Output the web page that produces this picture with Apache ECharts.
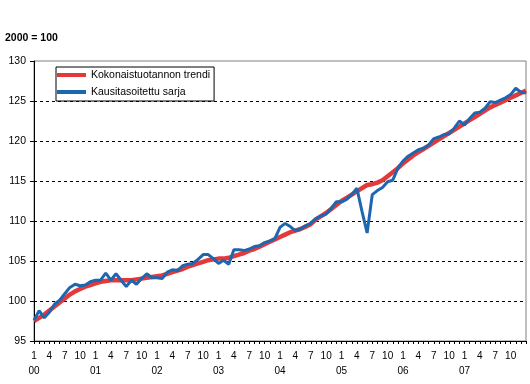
<!DOCTYPE html>
<html><head><meta charset="utf-8">
<script src="https://cdn.jsdelivr.net/npm/echarts@6/dist/echarts.min.js"></script>
<style>html,body{margin:0;padding:0;background:#fff}#c{width:530px;height:384px}</style>
</head><body><div id="c"></div><script>
const years = ['00','01','02','03','04','05','06','07','08'];
const monthNumbers = [1,2,3,4,5,6,7,8,9,10,11,12];
const yTicks = [95,100,105,110,115,120,125,130];
const seriesNames = ['Kokonaistuotannon trendi','Kausitasoitettu sarja'];

const trend = [
 97.5, 97.9, 98.3, 98.8, 99.3, 99.8,100.3,100.8,101.2,101.5,101.8,102.0,
102.2,102.4,102.5,102.6,102.6,102.6,102.6,102.6,102.7,102.8,102.9,103.0,
103.1,103.2,103.4,103.6,103.8,104.0,104.3,104.5,104.7,104.9,105.1,105.2,
105.3,105.3,105.4,105.6,105.8,106.0,106.3,106.5,106.8,107.1,107.4,107.7,
108.0,108.3,108.6,108.8,109.0,109.3,109.6,110.2,110.6,111.0,111.5,112.0,
112.5,112.9,113.3,113.7,114.1,114.5,114.6,114.8,115.1,115.6,116.1,116.6,
117.2,117.7,118.2,118.6,119.0,119.4,119.8,120.2,120.6,121.0,121.4,121.8,
122.2,122.6,123.0,123.4,123.8,124.2,124.5,124.8,125.1,125.4,125.7,126.0,
126.3];
const seasonal = [
 97.6, 98.8, 97.9, 98.6, 99.6,100.1,100.9,101.7,102.1,101.9,102.0,102.4,
102.6,102.6,103.5,102.6,103.4,102.6,101.8,102.6,102.1,102.8,103.4,102.9,
102.9,102.8,103.6,103.9,103.8,104.4,104.6,104.7,105.2,105.8,105.8,105.3,
104.7,105.1,104.6,106.4,106.4,106.3,106.5,106.8,106.9,107.3,107.5,107.8,
109.2,109.7,109.3,108.8,109.0,109.4,109.7,110.3,110.6,110.9,111.6,112.4,
112.4,112.7,113.3,114.1,111.2,108.5,113.3,113.8,114.2,114.9,115.1,116.6,
117.5,118.1,118.5,118.9,119.1,119.5,120.3,120.5,120.8,120.9,121.6,122.5,
122.0,122.8,123.5,123.6,124.1,124.9,124.8,125.1,125.4,125.8,126.6,126.1,
126.0];

const categories = [];
for (let y = 0; y < years.length && categories.length < trend.length; y++) {
  for (let m = 0; m < monthNumbers.length && categories.length < trend.length; m++) {
    categories.push(years[y] + '|' + monthNumbers[m]);
  }
}

const FONT = '"Liberation Sans", Arial, sans-serif';
const chart = echarts.init(document.getElementById('c'), null, {renderer: 'canvas'});
chart.setOption({
  animation: false,
  backgroundColor: '#fff',
  title: {
    text: '2000 = 100', left: 5, top: 33, padding: 0,
    textStyle: {fontFamily: FONT, fontSize: 10.5, fontWeight: 'bold', color: '#000'}
  },
  grid: {left: 34, right: 4, top: 61, bottom: 43, show: true, borderColor: '#808080', borderWidth: 1, backgroundColor: '#fff'},
  legend: {
    orient: 'vertical', left: 56, top: 67,
    backgroundColor: '#fff', borderColor: '#000', borderWidth: 1, borderRadius: 0,
    padding: [1, 4, 2, 1], itemGap: 3, itemWidth: 29, itemHeight: 4, icon: 'rect',
    textStyle: {fontFamily: FONT, fontSize: 10.5, color: '#000', lineHeight: 14},
    data: seriesNames
  },
  xAxis: {
    type: 'category', data: categories, boundaryGap: false,
    axisLine: {lineStyle: {color: '#000', width: 1}},
    axisTick: {show: true, interval: 0, length: 3, lineStyle: {color: '#000'}},
    axisLabel: {
      interval: function (i) { return i % 3 === 0 && i < categories.length - 1; },
      margin: 8, fontFamily: FONT, fontSize: 10, color: '#000', lineHeight: 15,
      formatter: function (v) {
        const p = v.split('|');
        return p[1] === '1' ? p[1] + '\n' + p[0] : p[1];
      }
    },
    splitLine: {show: false}
  },
  yAxis: {
    type: 'value', min: 95, max: 130, interval: 5,
    axisLine: {show: true, lineStyle: {color: '#000', width: 1}},
    axisTick: {show: true, length: 4, lineStyle: {color: '#000'}},
    axisLabel: {margin: 8, fontFamily: FONT, fontSize: 10.5, color: '#000'},
    splitLine: {show: true, lineStyle: {color: ['transparent','#000','#000','#000','#000','#000','#000','transparent'], type: [3, 3], width: 1}}
  },
  series: [
    {name: seriesNames[0], type: 'line', data: trend, showSymbol: false, symbol: 'none',
     lineStyle: {color: '#e23a3a', width: 4.5}, itemStyle: {color: '#e23a3a'}, z: 2},
    {name: seriesNames[1], type: 'line', data: seasonal, showSymbol: false, symbol: 'none',
     lineStyle: {color: '#1d66b0', width: 3}, itemStyle: {color: '#1d66b0'}, z: 3}
  ]
});
</script></body></html>
